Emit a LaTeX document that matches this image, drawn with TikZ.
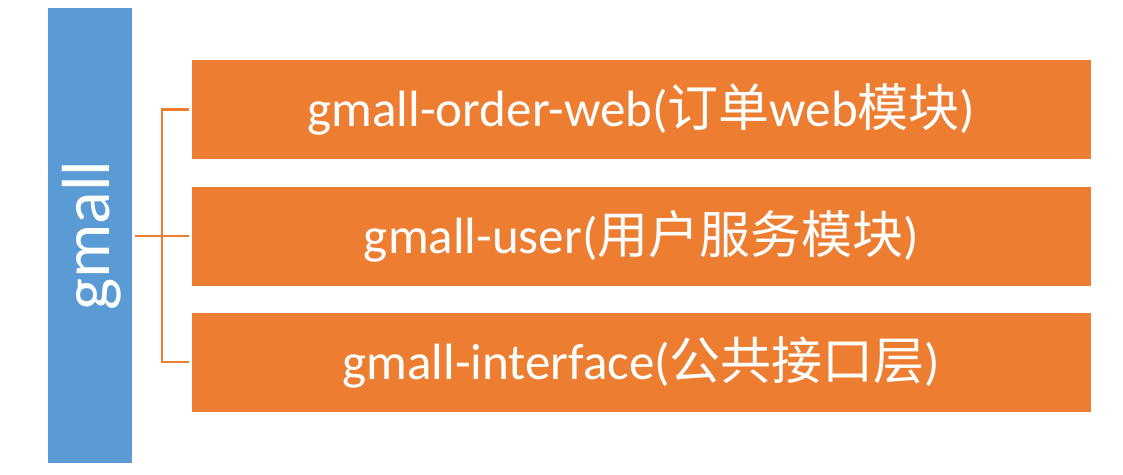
\documentclass[tikz,border=0pt]{standalone}
\usepackage{fontspec}
\setmainfont{Carlito}
\newfontfamily\cjk{Noto Sans CJK SC}
\definecolor{bluebar}{HTML}{5B9BD5}
\definecolor{orangebox}{HTML}{ED7D31}
\begin{document}
\begin{tikzpicture}[x=1pt,y=-1pt,
  modbox/.style={fill=orangebox,draw=none,minimum width=899pt,minimum height=99pt,inner sep=0pt,text=white,font=\fontsize{51}{58}\selectfont},
  bar/.style={fill=bluebar,draw=none,minimum width=84pt,minimum height=455pt,inner sep=0pt},
  link/.style={draw=orangebox,line width=2.5pt}]
\useasboundingbox (0,0) rectangle (1123,474);
\node[bar] (root) at (90,235.5) {};
\node[text=white,rotate=90,font=\fontsize{68}{70}\selectfont] (rootlabel) at (92,235.5) {gmall};
\node[modbox] (m1) at (641.5,109.5) {gmall-order-web({\cjk 订单}web{\cjk 模块})};
\node[modbox] (m2) at (641.5,236.5) {gmall-user({\cjk 用户服务模块})};
\node[modbox] (m3) at (641.5,362) {gmall-interface({\cjk 公共接口层})};
\coordinate (j) at (162,236);
\draw[link] ([xshift=3pt]root.east |- j) -- ([xshift=-3pt]m2.west |- j);
\draw[link] ([xshift=-3pt]m1.west) -| (j) |- ([xshift=-3pt]m3.west);
\end{tikzpicture}
\end{document}
